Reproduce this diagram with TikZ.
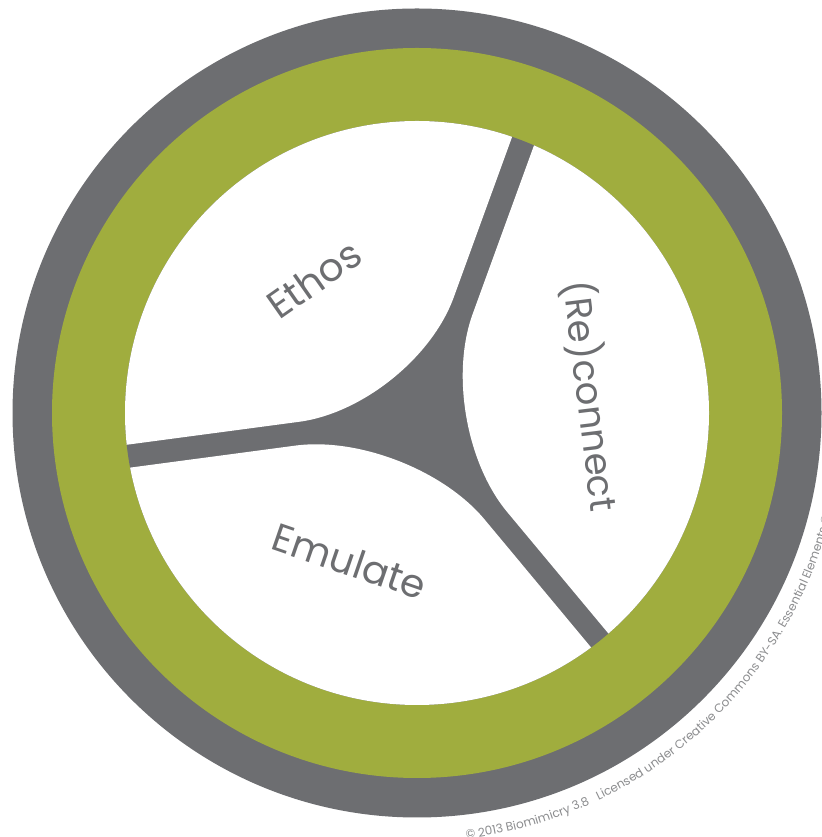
\documentclass[tikz,border=0pt]{standalone}
\usepackage{fontspec}
\setmainfont{Poppins}
\usetikzlibrary{decorations.text,calc}
\definecolor{ringgray}{RGB}{109,110,113}
\definecolor{ringgreen}{RGB}{160,173,62}
\definecolor{copygray}{RGB}{140,141,143}
\begin{document}
\begin{tikzpicture}[x=1pt,y=1pt,
  lbl/.style={text=ringgray,inner sep=0pt},
  sector/.style={fill=white,rounded corners=116pt}]
\fill[white] (0,0) rectangle (821,837);
\useasboundingbox (0,0) rectangle (821,837);
\coordinate (C) at (417,424);
\coordinate (T) at (414,424);
\fill[ringgray] (C) circle[radius=404.5];
\fill[ringgreen] (C) circle[radius=365];
\fill[ringgray] (C) circle[radius=292];
\coordinate (E0) at (414,430.5);
\coordinate (R0) at (433,414);
\coordinate (M0) at (410.3,406.7);
\begin{scope}
  \clip (C) circle[radius=292];
  \fill[sector] (585,900.5) -- (E0) -- (-81.5,364.5) -- (-300,1200) -- (585,1200) -- cycle;
  \fill[sector] (604,884) -- (R0) -- (753,30) -- (1300,30) -- (1300,884) -- cycle;
  \fill[sector] (-85,340.7) -- (M0) -- (730,22.7) -- (730,-300) -- (-85,-300) -- cycle;
\end{scope}
\node[lbl,font=\fontsize{39}{44}\selectfont,rotate=35] (ethos) at (314,558) {Ethos};
\node[lbl,font=\fontsize{37}{42}\selectfont,rotate=-83] (reconnect) at (591,441) {(Re)connect};
\node[lbl,font=\fontsize{39}{44}\selectfont,rotate=-19] (emulate) at (350,276) {Emulate};
\path[decorate,decoration={text along path,text align=left,text color=copygray,
  text={|\fontsize{12}{12}\selectfont|© 2013 Biomimicry 3.8{\ \ \ }Licensed under Creative Commons BY-SA. Essential Elements ©}}]
  ($(T)+(-83:429)$) arc[start angle=-83,end angle=20,radius=429];
\end{tikzpicture}
\end{document}
